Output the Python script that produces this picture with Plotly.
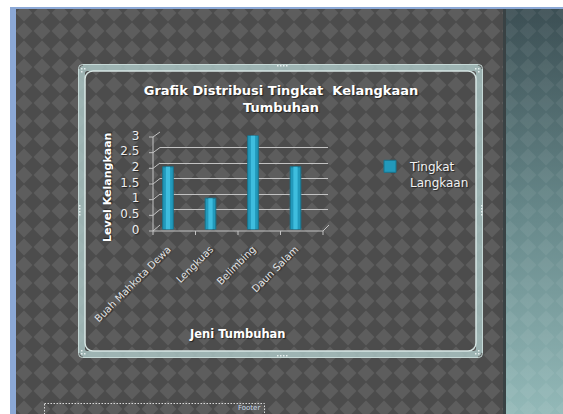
import base64
import plotly.graph_objects as go

# ---- data -------------------------------------------------------------
categories = ["Buah Mahkota Dewa", "Lengkuas", "Belimbing", "Daun Salam"]
levels = [2, 1, 3, 2]
series_name = "Tingkat<br>Langkaan"
y_tick_vals = [0, 0.5, 1, 1.5, 2, 2.5, 3]
y_tick_text = ["0", "0.5", "1", "1.5", "2", "2.5", "3"]

chart_title = "Grafik Distribusi Tingkat  Kelangkaan<br>Tumbuhan"
x_title = "Jeni Tumbuhan"
y_title = "Level Kelangkaan"
footer_text = "Footer"

# ---- canvas geometry (pixels) -----------------------------------------
W, H = 563, 414


def px(x):
    return x / W


def py(y):
    return 1 - y / H


FONT = "DejaVu Sans, Verdana, sans-serif"
SHADOW = "1px 1px 1px rgba(0,0,0,0.55)"
LINE_COL = "#c2c2c2"

# front wall / floor edges of the pseudo-3D frame
FX0, FX1, FY0, FUNIT = 153, 323, 231, 31.33
BX0, BX1, BY0, BUNIT = 160, 329, 225, 31.0

# ---- slide background (diamond checker, side panel, chart frame) -------
svg = f"""<svg xmlns='http://www.w3.org/2000/svg' width='{W}' height='{H}' viewBox='0 0 {W} {H}'>
<defs>
 <pattern id='chk' patternUnits='userSpaceOnUse' x='15' y='4' width='18' height='18'>
  <rect width='18' height='18' fill='#4c4c4c'/>
  <path d='M9 0.6L17.4 9L9 17.4L0.6 9Z' fill='#5d5d5d'/>
 </pattern>
 <pattern id='chk2' patternUnits='userSpaceOnUse' x='15' y='4' width='18' height='18'>
  <path d='M9 0.6L17.4 9L9 17.4L0.6 9Z' fill='#ffffff'/>
 </pattern>
 <linearGradient id='side' x1='0' y1='0' x2='0' y2='1'>
  <stop offset='0' stop-color='#3c4f54'/>
  <stop offset='0.5' stop-color='#668789'/>
  <stop offset='1' stop-color='#93b9b8'/>
 </linearGradient>
</defs>
<rect width='{W}' height='{H}' fill='#ffffff'/>
<rect x='10' y='7' width='{W-10}' height='{H-7}' fill='#8ba8d6'/>
<rect x='16' y='9' width='490' height='{H-9}' fill='url(#chk)'/>
<rect x='506' y='9' width='{W-506}' height='{H-9}' fill='url(#side)'/>
<rect x='506' y='9' width='{W-506}' height='{H-9}' fill='url(#chk2)' opacity='0.06'/>
<rect x='503' y='9' width='3' height='{H-9}' fill='#394244'/>
<rect x='81.5' y='67.5' width='398' height='287' rx='6' fill='none' stroke='#a9c3c2' stroke-opacity='0.85' stroke-width='7'/>
<rect x='78.5' y='64.5' width='404' height='293' rx='4' fill='none' stroke='#c6d9d7' stroke-width='1'/>
<rect x='85' y='71' width='391' height='280' rx='8' fill='none' stroke='#d6e5e3' stroke-width='1.5'/>
<g fill='#e6eeee'>
 <rect x='277' y='65' width='1.5' height='1.5'/><rect x='280' y='65' width='1.5' height='1.5'/>
 <rect x='283' y='65' width='1.5' height='1.5'/><rect x='286' y='65' width='1.5' height='1.5'/>
 <rect x='277' y='355' width='1.5' height='1.5'/><rect x='280' y='355' width='1.5' height='1.5'/>
 <rect x='283' y='355' width='1.5' height='1.5'/><rect x='286' y='355' width='1.5' height='1.5'/>
 <rect x='79' y='205' width='1.5' height='1.5'/><rect x='79' y='208' width='1.5' height='1.5'/>
 <rect x='79' y='211' width='1.5' height='1.5'/><rect x='79' y='214' width='1.5' height='1.5'/>
 <rect x='481' y='205' width='1.5' height='1.5'/><rect x='481' y='208' width='1.5' height='1.5'/>
 <rect x='481' y='211' width='1.5' height='1.5'/><rect x='481' y='214' width='1.5' height='1.5'/>
 <rect x='81' y='68' width='1.5' height='1.5'/><rect x='84' y='68' width='1.5' height='1.5'/><rect x='81' y='71' width='1.5' height='1.5'/>
 <rect x='478' y='68' width='1.5' height='1.5'/><rect x='475' y='68' width='1.5' height='1.5'/><rect x='478' y='71' width='1.5' height='1.5'/>
 <rect x='81' y='353' width='1.5' height='1.5'/><rect x='84' y='353' width='1.5' height='1.5'/><rect x='81' y='350' width='1.5' height='1.5'/>
 <rect x='478' y='353' width='1.5' height='1.5'/><rect x='475' y='353' width='1.5' height='1.5'/><rect x='478' y='350' width='1.5' height='1.5'/>
</g>
<rect x='44.5' y='403.5' width='220' height='30' fill='none' stroke='#d9d9d9' stroke-width='1' stroke-dasharray='1.5,1.5'/>
</svg>"""
bg_uri = "data:image/svg+xml;base64," + base64.b64encode(svg.encode()).decode()

fig = go.Figure()

# back-wall gridlines live on the first axis pair so they sit under the bars
fig.add_trace(go.Scatter(x=[], y=[], xaxis="x", yaxis="y", showlegend=False,
                         hoverinfo="skip"))

# columns: darker body with a lighter core for a rounded, cylinder-like look
fig.add_trace(go.Bar(
    x=categories, y=levels, name=series_name, xaxis="x2", yaxis="y2",
    width=0.25, marker=dict(color="#2299bb", line=dict(color="#17748e", width=1)),
    showlegend=True,
))
fig.add_trace(go.Bar(
    x=categories, y=levels, xaxis="x2", yaxis="y2", width=0.1,
    marker=dict(color="#3ebdde", line=dict(width=0)),
    showlegend=False, hoverinfo="skip",
))

# pseudo-3D frame edges: front wall, floor, connectors to the back wall
shapes = []


def seg(x0, y0, x1, y1):
    shapes.append(dict(type="line", xref="paper", yref="paper",
                       x0=px(x0), y0=py(y0), x1=px(x1), y1=py(y1),
                       line=dict(color=LINE_COL, width=1), layer="below"))


top_val = max(y_tick_vals)
seg(FX0, FY0, FX0, FY0 - top_val * FUNIT)
for v in y_tick_vals:
    yf = FY0 - v * FUNIT
    yb = BY0 - v * BUNIT
    seg(FX0 - 4, yf, FX0, yf)
    seg(FX0, yf, BX0, yb)
seg(FX0, FY0, FX1, FY0)
seg(FX1, FY0, BX1, BY0)
n = len(categories)
for i in range(n + 1):
    xt = FX0 + i * (FX1 - FX0) / n
    seg(xt, FY0, xt, FY0 + 4)

g_lo, g_hi = -0.02, top_val + 0.02

fig.update_layout(
    template="none",
    width=W, height=H,
    margin=dict(l=0, r=0, t=0, b=0, pad=0, autoexpand=False),
    paper_bgcolor="rgba(0,0,0,0)",
    plot_bgcolor="rgba(0,0,0,0)",
    barmode="overlay",
    font=dict(family=FONT, color="#ffffff"),
    images=[dict(source=bg_uri, xref="paper", yref="paper", x=0, y=1,
                 sizex=1, sizey=1, xanchor="left", yanchor="top",
                 sizing="stretch", layer="below")],
    title=dict(text=chart_title, x=px(281), y=py(95), xanchor="center",
               yanchor="middle", xref="paper", yref="paper",
               font=dict(family=FONT, size=13, color="#ffffff",
                         weight="bold", shadow=SHADOW)),
    xaxis=dict(domain=[px(BX0), px(BX1 - 1)], range=[0, 1], visible=False,
               anchor="y", automargin=False),
    yaxis=dict(domain=[py(BY0 - g_lo * BUNIT), py(BY0 - g_hi * BUNIT)],
               range=[g_lo, g_hi], anchor="x", tickvals=y_tick_vals,
               showgrid=True, gridcolor=LINE_COL, gridwidth=1,
               showticklabels=False, ticks="", showline=False,
               zeroline=False, automargin=False),
    xaxis2=dict(domain=[px(146.75), px(316.75)], range=[-0.5, n - 0.5],
                anchor="y2", type="category", tickangle=-45,
                automargin=False,
                tickfont=dict(family=FONT, size=10, color="#e2e2e2",
                              shadow=SHADOW),
                ticks="outside", ticklen=9, tickcolor="rgba(0,0,0,0)",
                showline=False, showgrid=False, zeroline=False),
    yaxis2=dict(domain=[py(FY0 - 1.5), py(FY0 - 1.5 - top_val * FUNIT)],
                range=[0, top_val], anchor="x2", tickvals=y_tick_vals,
                ticktext=y_tick_text, showgrid=False, zeroline=False,
                showline=False, ticks="outside", ticklen=4,
                tickcolor="rgba(0,0,0,0)", automargin=False,
                tickfont=dict(family=FONT, size=12, color="#ededed",
                              shadow=SHADOW)),
    legend=dict(x=px(370), y=py(152), xanchor="left", yanchor="top",
                bgcolor="rgba(0,0,0,0)", borderwidth=0, valign="top",
                font=dict(family=FONT, size=12, color="#f2f2f2",
                          shadow=SHADOW)),
    shapes=shapes,
    annotations=[
        dict(text=y_title, xref="paper", yref="paper", x=px(107), y=py(188),
             xanchor="center", yanchor="middle", textangle=-90,
             showarrow=False,
             font=dict(family=FONT, size=11, color="#ffffff", weight="bold",
                       shadow=SHADOW)),
        dict(text=x_title, xref="paper", yref="paper", x=px(237), y=py(334),
             xanchor="center", yanchor="middle", showarrow=False,
             font=dict(family=FONT, size=11.5, color="#ffffff",
                       weight="bold", shadow=SHADOW)),
        dict(text=footer_text, xref="paper", yref="paper", x=px(249),
             y=py(408), xanchor="center", yanchor="middle", showarrow=False,
             font=dict(family=FONT, size=7, color="#c4d6e6")),
    ],
)

fig.write_html("out.html")
